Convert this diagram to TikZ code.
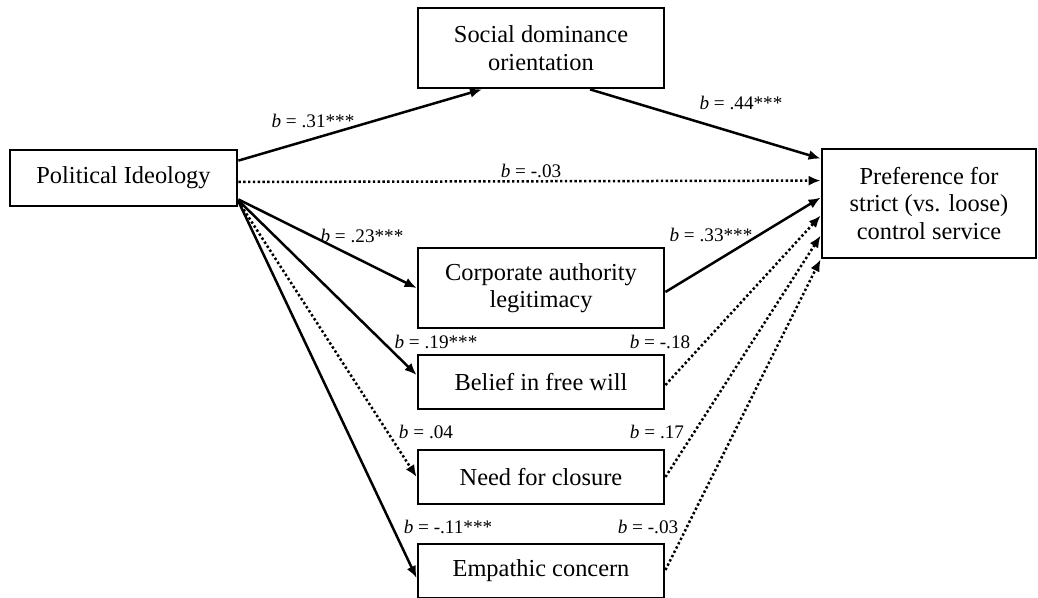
\documentclass[tikz,border=0pt]{standalone}
\usepackage{fontspec}
\setmainfont{Liberation Serif}
\usetikzlibrary{arrows.meta}
\tikzset{>={Latex[width=5pt,length=6pt]}}

\begin{document}
\begin{tikzpicture}[x=0.5pt,y=-0.5pt]

  \tikzset{
    var/.style={draw, line width=1.4pt, align=center, inner sep=0pt,
      font=\fontsize{12.2}{13.8}\selectfont},
    med/.style={var, minimum width=123pt, minimum height=27pt},
    path/.style={->, line width=1.25pt},
    nspath/.style={path, dash pattern=on 1.2pt off 1.2pt},
    coef/.style={inner sep=0pt, font=\fontsize{9.6}{11}\selectfont}
  }

  \useasboundingbox (0,0) rectangle (1038,598);

  % variables
  \node[var, minimum width=113.5pt, minimum height=28pt] (pi) at (123.5,178) {Political Ideology};
  \node[var, minimum width=107pt, minimum height=54.5pt] (pref) at (929,203.5)
    {Preference for\\strict (vs. loose)\\control service};
  \node[med, minimum height=40pt] (sdo) at (541,48) {Social dominance\\orientation};
  \node[med, minimum height=40pt] (cal) at (541,288) {Corporate authority\\legitimacy};
  \node[med] (bfw) at (541,382) {Belief in free will};
  \node[med] (nfc) at (541,477) {Need for closure};
  \node[med] (ec) at (541,571) {Empathic concern};

  % paths
  \draw[path] ([yshift=-6pt]pi.north east) -- ([xshift=-29.5pt]sdo.south); % PI->SDO
  \draw[path] ([xshift=24.5pt]sdo.south) -- ([yshift=-5.5pt]pref.north west); % SDO->Pref
  \draw[nspath] ([yshift=-2pt]pi.east) -- ([yshift=-16.5pt]pref.north west); % PI->Pref
  \draw[path] ([yshift=4pt]pi.south east) -- (cal.west); % PI->CAL
  \draw[path] ([yshift=-2pt]cal.east) -- ([yshift=-25pt]pref.north west); % CAL->Pref
  \draw[path] ([yshift=3.5pt]pi.south east) -- ([yshift=3.5pt]bfw.west); % PI->BFW
  \draw[nspath] ([yshift=-1.5pt]bfw.east) -- ([yshift=-34pt]pref.north west); % BFW->Pref
  \draw[nspath] ([yshift=3pt]pi.south east) -- (nfc.west); % PI->NFC
  \draw[nspath] (nfc.east) -- ([yshift=-44pt]pref.north west); % NFC->Pref
  \draw[path] ([yshift=3pt]pi.south east) -- ([yshift=-3.5pt]ec.west); % PI->EC
  \draw[nspath] ([yshift=0.5pt]ec.east) -- (pref.south west); % EC->Pref

  % coefficients
  \node[coef] (b1) at (313,121) {\textit{b} = .31***};
  \node[coef] (b2) at (741,103) {\textit{b} = .44***};
  \node[coef] (b3) at (531,171) {\textit{b} = -.03};
  \node[coef] (b4) at (362,236) {\textit{b} = .23***};
  \node[coef] (b5) at (711,235) {\textit{b} = .33***};
  \node[coef] (b6) at (436,342) {\textit{b} = .19***};
  \node[coef] (b7) at (660,342) {\textit{b} = -.18};
  \node[coef] (b8) at (426,432) {\textit{b} = .04};
  \node[coef] (b9) at (657,432) {\textit{b} = .17};
  \node[coef] (b10) at (448,527) {\textit{b} = -.11***};
  \node[coef] (b11) at (648,527) {\textit{b} = -.03};

\end{tikzpicture}
\end{document}
